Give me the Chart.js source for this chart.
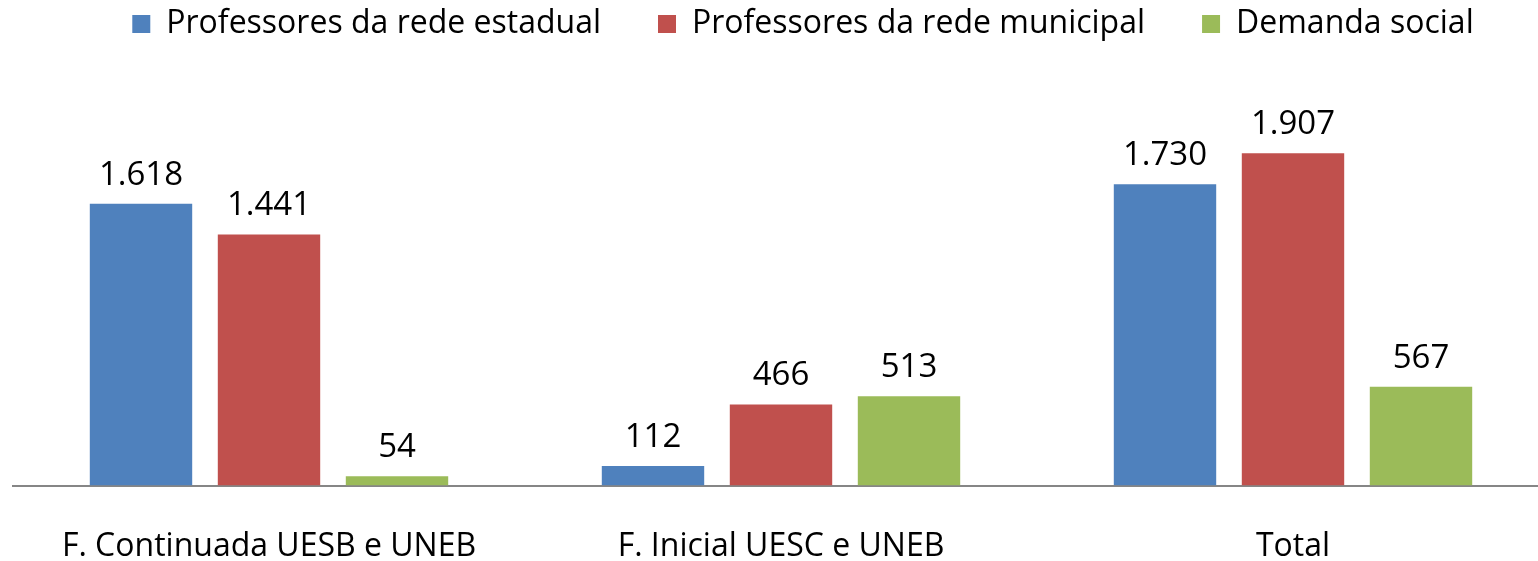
<!DOCTYPE html>
<html>
<head>
<meta charset="utf-8">
<script src="https://cdn.jsdelivr.net/npm/chart.js@4/dist/chart.umd.min.js"></script>
<style>
  html, body { margin: 0; padding: 0; background: #fff; overflow: hidden; }
  #wrap { width: 1549px; height: 561px; }
</style>
</head>
<body>
<div id="wrap"><canvas id="myChart"></canvas></div>
<script>
const categories = ['F. Continuada UESB e UNEB', 'F. Inicial UESC e UNEB', 'Total'];
const estadual = [1618, 112, 1730];
const municipal = [1441, 466, 1907];
const demanda = [54, 513, 567];

const fontFamily = "'Open Sans', 'Noto Sans', sans-serif";

function fmt(v) {
    return String(v).replace(/\B(?=(\d{3})+(?!\d))/g, '.');
}

// draws the value above each bar
const valueLabels = {
    id: 'valueLabels',
    afterDatasetsDraw(chart) {
        let ctx = chart.ctx;
        ctx.save();
        ctx.font = '33px ' + fontFamily;
        ctx.fillStyle = '#000';
        ctx.textAlign = 'center';
        ctx.textBaseline = 'bottom';
        chart.data.datasets.forEach((ds, i) => {
            chart.getDatasetMeta(i).data.forEach((bar, j) => {
                ctx.fillText(fmt(ds.data[j]), bar.x, bar.y - 12);
            });
        });
        ctx.restore();
    }
};

// nudge the legend a bit to the right, like the original
const legendShift = {
    id: 'legendShift',
    afterLayout(chart) {
        if (chart.legend) {
            chart.legend.left += 22;
            chart.legend.right += 22;
        }
    }
};

let ctx = document.getElementById('myChart').getContext('2d');
let myChart = new Chart(ctx, {
    type: 'bar',
    data: {
        labels: categories,
        datasets: [{
            label: 'Professores da rede estadual',
            data: estadual,
            backgroundColor: '#4F81BD'
        }, {
            label: 'Professores da rede municipal',
            data: municipal,
            backgroundColor: '#C0504D'
        }, {
            label: 'Demanda social',
            data: demanda,
            backgroundColor: '#9BBB59'
        }]
    },
    options: {
        responsive: true,
        maintainAspectRatio: false,
        animation: false,
        layout: { padding: { left: 13, top: -49 } },
        categoryPercentage: 0.75,
        barPercentage: 0.8,
        plugins: {
            legend: {
                position: 'top',
                labels: {
                    font: { family: fontFamily, size: 32 },
                    color: '#000',
                    boxWidth: 18,
                    boxHeight: 18,
                    padding: 57
                }
            },
            tooltip: { enabled: false }
        },
        scales: {
            x: {
                grid: { display: false, tickLength: 47 },
                border: { display: true, color: '#868686', width: 2 },
                ticks: {
                    color: '#000',
                    padding: -5,
                    font: { family: fontFamily, size: 32 }
                }
            },
            y: {
                display: false,
                min: 0,
                max: 2500
            }
        }
    },
    plugins: [valueLabels, legendShift]
});
</script>
</body>
</html>
